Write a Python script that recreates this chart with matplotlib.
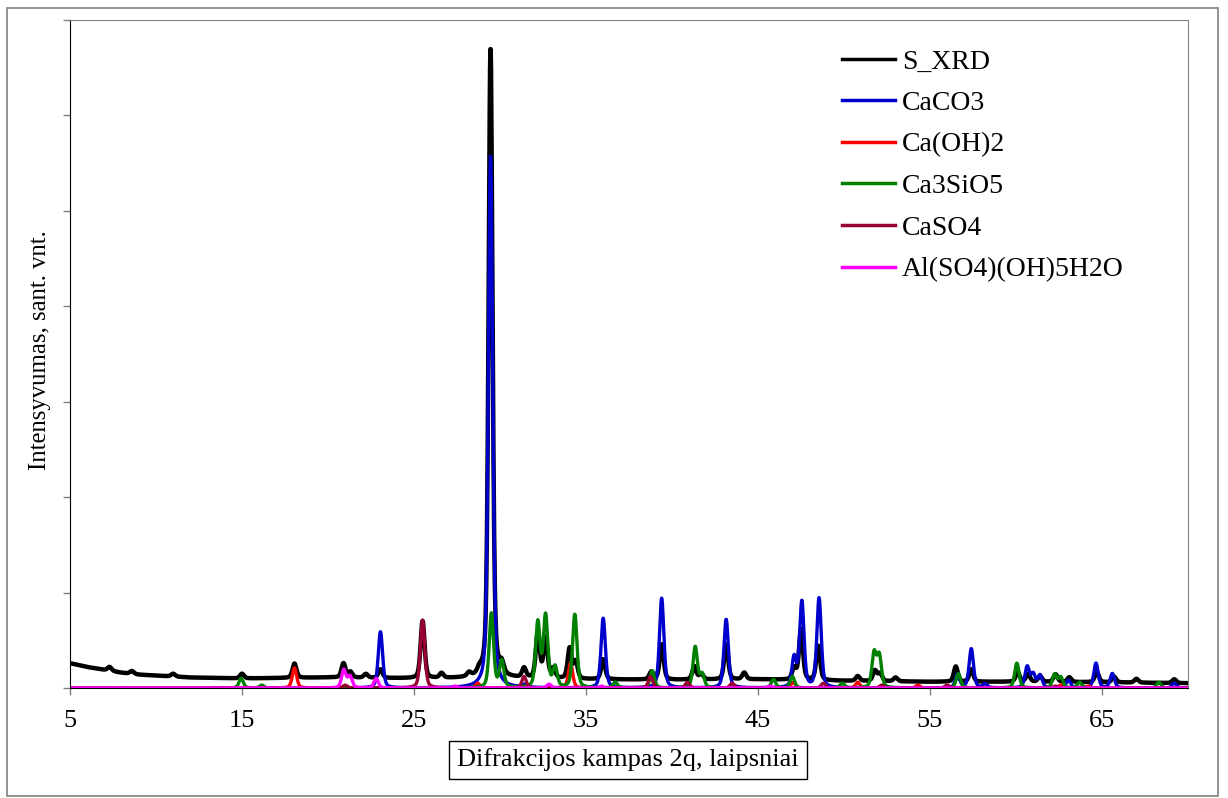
import numpy as np
import matplotlib
matplotlib.use("Agg")
import matplotlib.pyplot as plt
from matplotlib.patches import Rectangle

plt.rcParams['font.family'] = ['Liberation Serif', 'DejaVu Serif']

# --- data (2theta, relative intensity) ---
bg_pos = [5, 6, 7, 8, 9, 10, 12, 15, 20, 25, 30, 35, 40, 45, 50, 55, 60, 65, 70]
bg_val = [0.26, 0.22, 0.19, 0.16, 0.14, 0.13, 0.11, 0.10, 0.11, 0.10, 0.10, 0.09, 0.085, 0.09, 0.075, 0.065, 0.065, 0.06, 0.05]

xrd_pos = [7.3, 8.6, 11.0, 15.0, 18.05, 20.9, 21.3, 22.2, 23.05, 25.5, 26.6, 28.2, 28.8, 29.45, 30.1,
           31.4, 32.2, 32.65, 33.1, 34.05, 34.4, 36.0, 38.8, 39.4, 41.3, 41.7, 43.15, 44.2, 47.1, 47.5,
           48.5, 50.8, 51.8, 52.1, 53.0, 56.5, 57.4, 60.1, 60.7, 61.4, 62.3, 63.1, 64.7, 65.7, 67.0, 69.2]
xrd_hgt = [0.04, 0.03, 0.03, 0.05, 0.15, 0.15, 0.06, 0.04, 0.09, 0.60, 0.05, 0.04, 0.05, 6.62, 0.10,
           0.10, 0.48, 0.42, 0.10, 0.32, 0.18, 0.21, 0.08, 0.37, 0.14, 0.06, 0.37, 0.07, 0.12, 0.53,
           0.36, 0.05, 0.11, 0.08, 0.04, 0.16, 0.13, 0.10, 0.08, 0.06, 0.08, 0.05, 0.11, 0.06, 0.04, 0.04]

caco3_pos = [23.05, 29.45, 31.45, 36.0, 39.4, 43.15, 47.1, 47.55, 48.55, 56.6, 57.4, 58.2, 60.65, 61.0, 61.4, 63.05, 64.65, 65.6, 69.2]
caco3_hgt = [0.59, 5.59, 0.03, 0.73, 0.94, 0.72, 0.31, 0.90, 0.94, 0.14, 0.41, 0.04, 0.22, 0.14, 0.13, 0.08, 0.26, 0.15, 0.05]

caoh2_pos = [18.05, 28.7, 34.1, 47.05, 50.8, 54.3, 62.6, 64.2]
caoh2_hgt = [0.21, 0.05, 0.26, 0.06, 0.06, 0.03, 0.03, 0.02]

c3s_pos = [14.95, 16.15, 29.5, 30.1, 32.2, 32.65, 33.2, 34.35, 36.7, 38.85, 41.35, 41.75, 45.9, 47.0, 49.9,
           51.75, 52.05, 56.65, 60.05, 62.25, 62.6, 63.7, 68.3]
c3s_hgt = [0.10, 0.03, 0.78, 0.28, 0.68, 0.75, 0.21, 0.77, 0.06, 0.18, 0.43, 0.14, 0.09, 0.12, 0.05,
           0.36, 0.33, 0.15, 0.26, 0.14, 0.11, 0.06, 0.06]

caso4_pos = [21.0, 25.5, 31.4, 38.75, 40.9, 43.5, 48.8, 52.2, 56.0, 62.3]
caso4_hgt = [0.03, 0.71, 0.12, 0.12, 0.06, 0.05, 0.05, 0.03, 0.03, 0.02]

al_pos = [20.92, 21.28, 22.8, 27.4, 32.85, 35.9, 45.7]
al_hgt = [0.19, 0.12, 0.10, 0.02, 0.04, 0.02, 0.02]


def profil(x, pozicijos, aukstis, w=0.3):
    y = np.zeros_like(x)
    for p, h in zip(pozicijos, aukstis):
        d = (x - p) / w
        y += h * (0.6 * np.exp(-4 * np.log(2) * d ** 2) + 0.4 / (1 + 4 * d ** 2))
    return y


x = np.arange(5, 70.001, 0.02)
s_xrd = np.interp(x, bg_pos, bg_val) + profil(x, xrd_pos, xrd_hgt, 0.27)

serijos = [
    ("S_XRD", s_xrd, "#000000", 3.2),
    ("CaCO3", profil(x, caco3_pos, caco3_hgt), "#0000CC", 2.4),
    ("Ca(OH)2", profil(x, caoh2_pos, caoh2_hgt), "#FF0000", 2.4),
    ("Ca3SiO5", profil(x, c3s_pos, c3s_hgt), "#008000", 2.4),
    ("CaSO4", profil(x, caso4_pos, caso4_hgt), "#990033", 2.4),
    ("Al(SO4)(OH)5H2O", profil(x, al_pos, al_hgt), "#FF00FF", 2.4),
]

fig = plt.figure(figsize=(12.28, 7.98), dpi=100)
ax = fig.add_axes([70 / 1228, 1 - 688 / 798, 1118 / 1228, 668 / 798])

for nm, y, c, lw in serijos:
    ax.plot(x, y, color=c, lw=lw, label=nm, solid_joinstyle='round')

ax.set_xlim(5, 70)
ax.set_ylim(0, 7)
ax.set_xticks(np.arange(5, 70, 10))
ax.set_yticks(np.arange(0, 8, 1))
ax.set_yticklabels([])
ax.tick_params(axis='both', direction='out', length=5, width=1, color='#808080', labelsize=19)
ax.tick_params(axis='x', pad=11)

for s in ['top', 'right']:
    ax.spines[s].set_color('#808080')
for s in ['left', 'bottom']:
    ax.spines[s].set_color('black')

leg = ax.legend(loc='upper left', bbox_to_anchor=(817 / 1228, 1 - 24 / 798), bbox_transform=fig.transFigure,
                frameon=False, fontsize=20, handlelength=1.9, handletextpad=0.25, labelspacing=0.58)
for ln in leg.get_lines():
    ln.set_linewidth(2.5)

fig.text(40 / 1228, 1 - 350 / 798, "Intensyvumas, sant. vnt.", rotation=90, ha='center', va='center', fontsize=17.8)
fig.text(628 / 1228, 1 - 760 / 798, "Difrakcijos kampas 2q, laipsniai", ha='center', va='center', fontsize=19,
         bbox=dict(boxstyle='square,pad=0.3', fc='white', ec='black', lw=1))

fig.patches.append(Rectangle((7 / 1228, 2 / 798), 1211 / 1228, 788 / 798, transform=fig.transFigure,
                             fill=False, ec='#808080', lw=1.2))

fig.savefig('out.png', dpi=100)
